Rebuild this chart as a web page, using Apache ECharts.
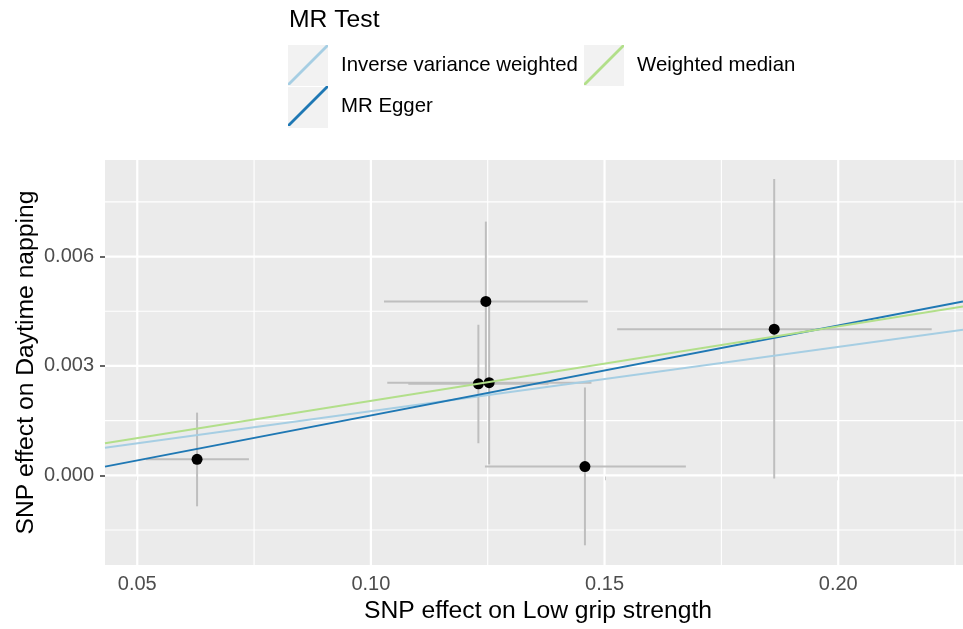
<!DOCTYPE html>
<html lang="en">
<head>
<meta charset="UTF-8">
<title>MR scatter plot</title>
<style>
  html, body { margin: 0; padding: 0; background: #fff; }
  #main { width: 963px; height: 629px; }
</style>
</head>
<body>
<div id="main"></div>
<script src="https://cdn.jsdelivr.net/npm/echarts@6/dist/echarts.min.js"></script>
<script>
// SNP effects (exposure = low grip strength, outcome = daytime napping)
var snpX   = [0.0628, 0.1246, 0.1230, 0.1253, 0.1458, 0.1863];
var snpY   = [0.00044, 0.00477, 0.00251, 0.00254, 0.00024, 0.00401];
var snpXLo = [0.0519, 0.1028, 0.1080, 0.1035, 0.1244, 0.1527];
var snpXHi = [0.0739, 0.1464, 0.1380, 0.1472, 0.1674, 0.2200];
var snpYLo = [-0.00085, 0.00258, 0.00088, 0.00030, -0.00192, -0.00009];
var snpYHi = [0.00172, 0.00696, 0.00413, 0.00473, 0.00241, 0.00813];

// MR methods
var methodNames      = ['Inverse variance weighted', 'MR Egger', 'Weighted median'];
var methodSlopes     = [0.01762, 0.02467, 0.02043];
var methodIntercepts = [0, -0.000825, 0];
var methodColors     = ['#a6cee3', '#1f78b4', '#b2df8a'];

// axes
var xRange = [0.0431, 0.2267];
var yRange = [-0.00246, 0.00865];
var xTicks = [0.05, 0.10, 0.15, 0.20];
var xMinor = [0.075, 0.125, 0.175, 0.225];
var yTicks = [0.000, 0.003, 0.006];
var yMinor = [-0.0015, 0.0015, 0.0045, 0.0075];

var FONT = 'Liberation Sans, Arial, Helvetica, sans-serif';
var chart = echarts.init(document.getElementById('main'));

// [0 = vertical / 1 = horizontal, value, line width]
var gridLines = [];
xMinor.forEach(function (v) { gridLines.push([0, v, 1.1]); });
yMinor.forEach(function (v) { gridLines.push([1, v, 1.1]); });
xTicks.forEach(function (v) { gridLines.push([0, v, 2.2]); });
yTicks.forEach(function (v) { gridLines.push([1, v, 2.2]); });

var barData = snpX.map(function (x, i) {
  return [x, snpY[i], snpXLo[i], snpXHi[i], snpYLo[i], snpYHi[i]];
});

var series = [
  {
    name: 'grid',
    type: 'custom',
    z: 1,
    silent: true,
    data: gridLines,
    renderItem: function (params, api) {
      var cs = params.coordSys;
      var v = api.value(1);
      var shape;
      if (api.value(0) === 0) {
        var px = api.coord([v, yRange[0]])[0];
        shape = { x1: px, y1: cs.y, x2: px, y2: cs.y + cs.height };
      } else {
        var py = api.coord([xRange[0], v])[1];
        shape = { x1: cs.x, y1: py, x2: cs.x + cs.width, y2: py };
      }
      return { type: 'line', shape: shape, style: { stroke: '#ffffff', lineWidth: api.value(2) } };
    }
  },
  {
    name: 'errorbars',
    type: 'custom',
    z: 3,
    silent: true,
    data: barData,
    renderItem: function (params, api) {
      var x = api.value(0), y = api.value(1);
      var l = api.coord([api.value(2), y]);
      var r = api.coord([api.value(3), y]);
      var b = api.coord([x, api.value(4)]);
      var t = api.coord([x, api.value(5)]);
      var st = { stroke: '#bebebe', lineWidth: 2 };
      return {
        type: 'group',
        children: [
          { type: 'line', shape: { x1: b[0], y1: b[1], x2: t[0], y2: t[1] }, style: st },
          { type: 'line', shape: { x1: l[0], y1: l[1], x2: r[0], y2: r[1] }, style: st }
        ]
      };
    }
  },
  {
    name: 'SNPs',
    type: 'scatter',
    z: 4,
    symbolSize: 11,
    itemStyle: { color: '#000000', opacity: 1 },
    data: snpX.map(function (x, i) { return [x, snpY[i]]; })
  }
];

methodNames.forEach(function (name, i) {
  series.push({
    name: name,
    type: 'line',
    z: 5,
    showSymbol: false,
    symbol: 'none',
    color: methodColors[i],
    itemStyle: { color: methodColors[i] },
    lineStyle: { color: methodColors[i], width: 2 },
    data: xRange.map(function (x) {
      return [x, methodIntercepts[i] + methodSlopes[i] * x];
    })
  });
});

// ggplot-like legend: two columns, keys on a light grey square
function legendColumn(names, left) {
  return {
    data: names,
    orient: 'vertical',
    left: left,
    top: 45,
    padding: 0,
    itemWidth: 40,
    itemHeight: 41,
    itemGap: 1,
    icon: 'path://M0,95 L95,0 L100,0 L100,5 L5,100 L0,100 Z',
    itemStyle: { borderWidth: 0 },
    selectedMode: false,
    textStyle: { fontFamily: FONT, fontSize: 20.4, color: '#000000', padding: [0, 0, 0, 8] }
  };
}

var option = {
  animation: false,
  backgroundColor: '#ffffff',
  textStyle: { fontFamily: FONT },
  title: {
    text: 'MR Test',
    left: 284,
    top: 3,
    textStyle: { fontFamily: FONT, fontSize: 24.7, fontWeight: 'normal', color: '#000000' }
  },
  graphic: [
    { type: 'rect', z: 0, shape: { x: 288, y: 45, width: 40, height: 41 }, style: { fill: '#f2f2f2' } },
    { type: 'rect', z: 0, shape: { x: 584, y: 45, width: 40, height: 41 }, style: { fill: '#f2f2f2' } },
    { type: 'rect', z: 0, shape: { x: 288, y: 87, width: 40, height: 41 }, style: { fill: '#f2f2f2' } }
  ],
  legend: [
    legendColumn(['Inverse variance weighted', 'MR Egger'], 288),
    legendColumn(['Weighted median'], 584)
  ],
  grid: { left: 105, top: 160, right: 0, bottom: 63, show: true, backgroundColor: '#ebebeb', borderWidth: 0 },
  xAxis: {
    type: 'value',
    min: xRange[0],
    max: xRange[1],
    name: 'SNP effect on Low grip strength',
    nameLocation: 'middle',
    nameGap: 34,
    nameMoveOverlap: false,
    nameTextStyle: { fontFamily: FONT, fontSize: 24.7, color: '#000000', padding: [0, 0, 0, 8] },
    axisLine: { show: false },
    axisTick: { show: true, length: 5, customValues: xTicks, lineStyle: { color: '#333333', width: 1.5 } },
    axisLabel: {
      customValues: xTicks, margin: 9, fontFamily: FONT, fontSize: 20, color: '#4d4d4d',
      formatter: function (v) { return v.toFixed(2); }
    },
    splitLine: { show: false }
  },
  yAxis: {
    type: 'value',
    min: yRange[0],
    max: yRange[1],
    name: 'SNP effect on Daytime napping',
    nameLocation: 'middle',
    nameGap: 66,
    nameMoveOverlap: false,
    nameTextStyle: { fontFamily: FONT, fontSize: 24.7, color: '#000000' },
    axisLine: { show: false },
    axisTick: { show: true, length: 5, customValues: yTicks, lineStyle: { color: '#333333', width: 1.5 } },
    axisLabel: {
      customValues: yTicks, margin: 11, fontFamily: FONT, fontSize: 20, color: '#4d4d4d',
      formatter: function (v) { return v.toFixed(3); }
    },
    splitLine: { show: false }
  },
  series: series
};

chart.setOption(option);
</script>
</body>
</html>
